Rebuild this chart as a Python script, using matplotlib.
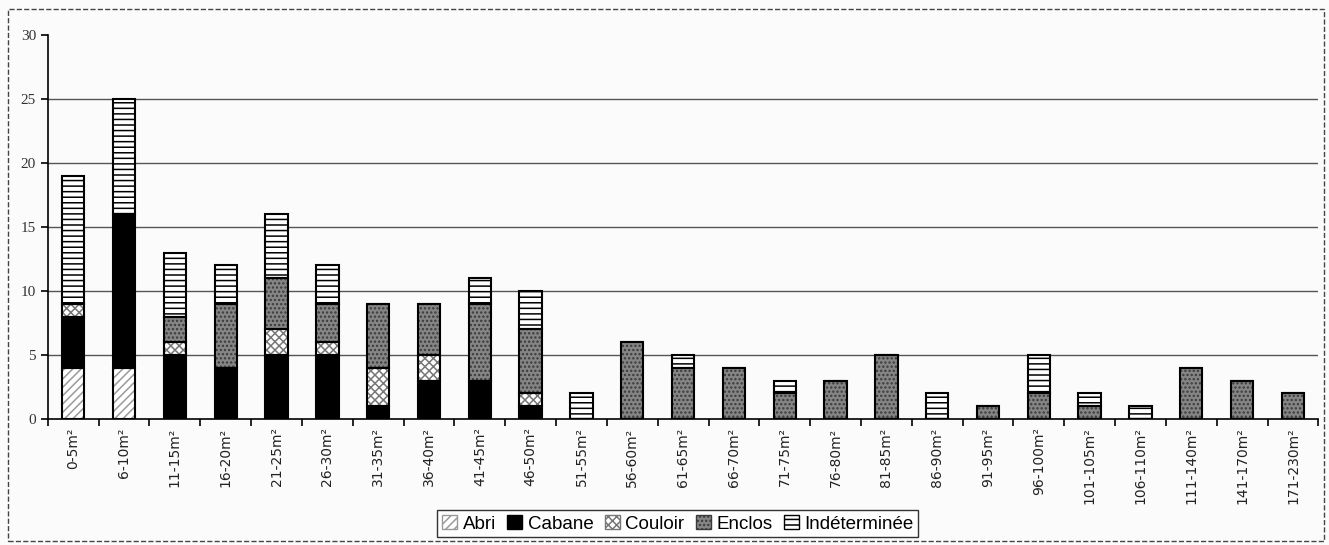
import matplotlib.pyplot as plt
import matplotlib.patches as mpatches
import numpy as np

# Surface classes (x axis)
classes = ["0-5m²", "6-10m²", "11-15m²", "16-20m²", "21-25m²", "26-30m²",
           "31-35m²", "36-40m²", "41-45m²", "46-50m²", "51-55m²", "56-60m²",
           "61-65m²", "66-70m²", "71-75m²", "76-80m²", "81-85m²", "86-90m²",
           "91-95m²", "96-100m²", "101-105m²", "106-110m²", "111-140m²",
           "141-170m²", "171-230m²"]

# Counts per type
abri =         [4, 4, 0, 0, 0, 0, 0, 0, 0, 0, 0, 0, 0, 0, 0, 0, 0, 0, 0, 0, 0, 0, 0, 0, 0]
cabane =       [4, 12, 5, 4, 5, 5, 1, 3, 3, 1, 0, 0, 0, 0, 0, 0, 0, 0, 0, 0, 0, 0, 0, 0, 0]
couloir =      [1, 0, 1, 0, 2, 1, 3, 2, 0, 1, 0, 0, 0, 0, 0, 0, 0, 0, 0, 0, 0, 0, 0, 0, 0]
enclos =       [0, 0, 2, 5, 4, 3, 5, 4, 6, 5, 0, 6, 4, 4, 2, 3, 5, 0, 1, 2, 1, 0, 4, 3, 2]
indeterminee = [10, 9, 5, 3, 5, 3, 0, 0, 2, 3, 2, 0, 1, 0, 1, 0, 0, 2, 0, 3, 1, 1, 0, 0, 0]

# name, values, face colour, hatch, hatch colour
series = [("Abri", abri, "white", "////", "#9a9a9a"),
          ("Cabane", cabane, "black", None, "black"),
          ("Couloir", couloir, "white", "xxxx", "#777777"),
          ("Enclos", enclos, "#858585", "....", "#3a3a3a"),
          ("Indéterminée", indeterminee, "white", "---", "black")]

plt.rcParams['hatch.linewidth'] = 1.1

fig = plt.figure(figsize=(13.29, 5.45), dpi=100)
fig.patch.set_facecolor("#fbfbfb")
ax = fig.add_axes([0.036, 0.231, 0.956, 0.705])
ax.set_facecolor("#fbfbfb")

x = np.arange(len(classes))
bottom = np.zeros(len(classes))
handles = []
for name, vals, color, hatch, hcol in series:
    vals = np.array(vals)
    # fill + hatch (hatch takes the edge colour), then black outline
    ax.bar(x, vals, width=0.44, bottom=bottom, color=color, hatch=hatch,
           edgecolor=hcol, linewidth=0, zorder=3)
    ax.bar(x, vals, width=0.44, bottom=bottom, fill=False,
           edgecolor="black", linewidth=1.5, zorder=4)
    bottom += vals
    handles.append(mpatches.Patch(facecolor=color, hatch=hatch,
                                  edgecolor=hcol, linewidth=1, label=name))

# Axes styling
ax.set_xlim(-0.5, len(classes) - 0.5)
ax.set_ylim(0, 30)
ax.set_yticks(range(0, 31, 5))
for yv in range(5, 30, 5):
    ax.axhline(yv, color="#555555", linewidth=1, zorder=0)
for side in ["top", "right"]:
    ax.spines[side].set_visible(False)
ax.spines["left"].set_linewidth(1.2)
ax.spines["bottom"].set_linewidth(1.2)

ax.set_xticks(x)
ax.set_xticklabels(classes, rotation=90, fontsize=10, family="DejaVu Sans",
                   color="#222222")
ax.tick_params(axis="x", which="major", length=0, pad=6)
ax.set_xticks(np.arange(-0.5, len(classes), 1), minor=True)
ax.tick_params(axis="x", which="minor", length=5, width=1.2, direction="out")
ax.tick_params(axis="y", length=5, width=1.2, direction="out")
for lab in ax.get_yticklabels():
    lab.set_family("Liberation Serif")
    lab.set_fontsize(11)
    lab.set_color("#333333")

fig.legend(handles=handles, loc="lower center", bbox_to_anchor=(0.51, 0.014),
           ncol=5, frameon=True, fancybox=False, edgecolor="black",
           handlelength=0.8, handleheight=0.8, handletextpad=0.3,
           columnspacing=0.6, borderpad=0.25, borderaxespad=0,
           prop={"family": "Liberation Sans", "size": 13.5})

# Outer frame of the figure
fig.add_artist(mpatches.Rectangle((0.006, 0.008), 0.99, 0.975, transform=fig.transFigure,
                                  fill=False, edgecolor="#444444", linewidth=1, linestyle="--"))

fig.savefig("out.png", dpi=100, facecolor=fig.get_facecolor())
